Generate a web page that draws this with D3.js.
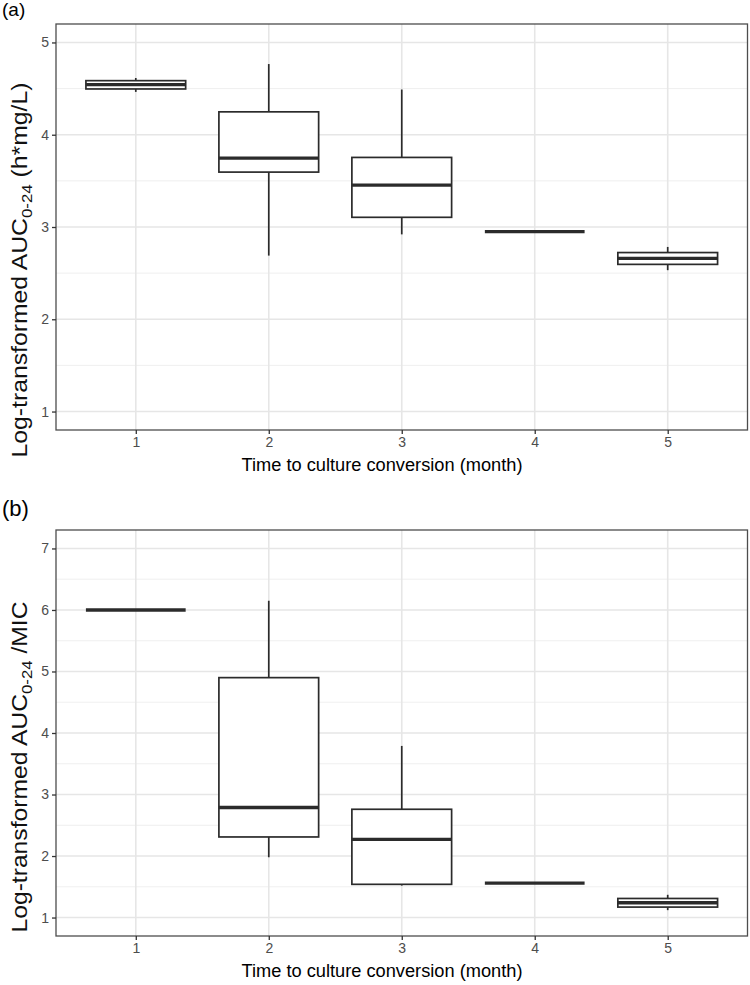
<!DOCTYPE html>
<html>
<head>
<meta charset="utf-8">
<script src="https://cdn.jsdelivr.net/npm/d3@7"></script>
<style>
  html, body { margin: 0; padding: 0; background: #fff; }
  svg { display: block; font-family: "Liberation Sans", Arial, Helvetica, sans-serif; }
</style>
</head>
<body>
<svg id="chart" width="750" height="985"></svg>
<script>
// ---- data ----
const months = [1, 2, 3, 4, 5];
const xTickLabels = ["1", "2", "3", "4", "5"];

// Panel (a): Log-transformed AUC0-24 (h*mg/L)
const aLow    = [4.464, 2.69, 2.92, 2.95, 2.532];
const aQ1     = [4.496, 3.595, 3.105, 2.95, 2.595];
const aMedian = [4.543, 3.746, 3.454, 2.95, 2.66];
const aQ3     = [4.586, 4.248, 3.754, 2.95, 2.723];
const aHigh   = [4.615, 4.766, 4.49, 2.95, 2.784];
const aYTicks = [1, 2, 3, 4, 5];
const aYMinor = [1.5, 2.5, 3.5, 4.5];

// Panel (b): Log-transformed AUC0-24 /MIC
const bLow    = [6.0, 1.98, 1.52, 1.56, 1.12];
const bQ1     = [6.0, 2.31, 1.54, 1.56, 1.17];
const bMedian = [6.0, 2.79, 2.27, 1.56, 1.24];
const bQ3     = [6.0, 4.9, 2.76, 1.56, 1.31];
const bHigh   = [6.0, 6.15, 3.79, 1.56, 1.37];
const bYTicks = [1, 2, 3, 4, 5, 6, 7];
const bYMinor = [1.5, 2.5, 3.5, 4.5, 5.5, 6.5];

const xTitle = "Time to culture conversion (month)";

const svg = d3.select("#chart");

function panel(cfg) {
  const { top, bottom, left, right, yDomain, low, q1, med, q3, high, yTicks, yMinor,
          tag, tagFont, tagY, yTitleSuffix, yTitleCenter, yTitleLen } = cfg;
  const x = d3.scaleLinear().domain([0.4, 5.6]).range([left, right]);
  const y = d3.scaleLinear().domain(yDomain).range([bottom, top]);
  const g = svg.append("g");

  // grid
  g.selectAll("line.minor").data(yMinor).join("line")
    .attr("x1", left).attr("x2", right)
    .attr("y1", d => y(d)).attr("y2", d => y(d))
    .attr("stroke", "#ebebeb").attr("stroke-width", 0.8);
  g.selectAll("line.majy").data(yTicks).join("line")
    .attr("x1", left).attr("x2", right)
    .attr("y1", d => y(d)).attr("y2", d => y(d))
    .attr("stroke", "#e6e6e6").attr("stroke-width", 1.6);
  g.selectAll("line.majx").data(months).join("line")
    .attr("y1", top).attr("y2", bottom)
    .attr("x1", d => x(d)).attr("x2", d => x(d))
    .attr("stroke", "#e6e6e6").attr("stroke-width", 1.6);

  const bw = (x(1.375) - x(0.625));
  const data = months.map((m, i) => ({ m, lo: low[i], q1: q1[i], med: med[i], q3: q3[i], hi: high[i] }));
  const col = "#2b2b2b";
  const bx = g.selectAll("g.box").data(data).join("g");
  bx.append("line")
    .attr("x1", d => x(d.m)).attr("x2", d => x(d.m))
    .attr("y1", d => y(d.hi)).attr("y2", d => y(d.q3))
    .attr("stroke", col).attr("stroke-width", 1.7);
  bx.append("line")
    .attr("x1", d => x(d.m)).attr("x2", d => x(d.m))
    .attr("y1", d => y(d.q1)).attr("y2", d => y(d.lo))
    .attr("stroke", col).attr("stroke-width", 1.7);
  bx.append("rect")
    .attr("x", d => x(d.m) - bw / 2).attr("width", bw)
    .attr("y", d => y(d.q3)).attr("height", d => Math.max(0, y(d.q1) - y(d.q3)))
    .attr("fill", "#fff").attr("stroke", col).attr("stroke-width", 1.7);
  bx.append("line")
    .attr("x1", d => x(d.m) - bw / 2).attr("x2", d => x(d.m) + bw / 2)
    .attr("y1", d => y(d.med)).attr("y2", d => y(d.med))
    .attr("stroke", col).attr("stroke-width", 3.4);

  // border
  g.append("rect").attr("x", left).attr("y", top)
    .attr("width", right - left).attr("height", bottom - top)
    .attr("fill", "none").attr("stroke", "#4d4d4d").attr("stroke-width", 1.3);

  // axes
  const ax = g.append("g").attr("transform", `translate(0,${bottom})`)
    .call(d3.axisBottom(x).tickValues(months).tickFormat((d, i) => xTickLabels[i]).tickSize(4).tickPadding(3));
  const ay = g.append("g").attr("transform", `translate(${left},0)`)
    .call(d3.axisLeft(y).tickValues(yTicks).tickFormat(d3.format("d")).tickSize(4).tickPadding(3));
  [ax, ay].forEach(a => {
    a.select(".domain").remove();
    a.selectAll(".tick line").attr("stroke", "#333").attr("stroke-width", 1.3);
    a.selectAll(".tick text").attr("fill", "#4d4d4d").attr("font-size", 14)
      .attr("font-family", "Liberation Sans, Arial, sans-serif");
  });

  // x title
  g.append("text").attr("x", 382).attr("y", bottom + 41)
    .attr("text-anchor", "middle").attr("font-size", 18).attr("fill", "#000")
    .attr("textLength", 281).attr("lengthAdjust", "spacingAndGlyphs")
    .text(xTitle);

  // y title
  const yt = g.append("text")
    .attr("transform", `translate(27,${yTitleCenter}) rotate(-90)`)
    .attr("text-anchor", "middle").attr("font-size", 22).attr("fill", "#111")
    .attr("textLength", yTitleLen).attr("lengthAdjust", "spacingAndGlyphs");
  yt.append("tspan").text("Log-transformed AUC");
  yt.append("tspan").attr("font-size", 15).attr("dy", 5).text("0-24");
  yt.append("tspan").attr("dy", -5).text(yTitleSuffix);

  // tag
  svg.append("text").attr("x", 2).attr("y", tagY)
    .attr("font-size", tagFont).attr("fill", "#000").text(tag);
}

panel({ top: 24, bottom: 430, left: 56, right: 747.5, yDomain: [0.8, 5.2],
  low: aLow, q1: aQ1, med: aMedian, q3: aQ3, high: aHigh, yTicks: aYTicks, yMinor: aYMinor,
  tag: "(a)", tagFont: 19, tagY: 16, yTitleSuffix: " (h*mg/L)", yTitleCenter: 270, yTitleLen: 375 });

panel({ top: 530, bottom: 936, left: 56, right: 747.5, yDomain: [0.7, 7.3],
  low: bLow, q1: bQ1, med: bMedian, q3: bQ3, high: bHigh, yTicks: bYTicks, yMinor: bYMinor,
  tag: "(b)", tagFont: 22, tagY: 516, yTitleSuffix: " /MIC", yTitleCenter: 767, yTitleLen: 331 });
</script>
</body>
</html>
